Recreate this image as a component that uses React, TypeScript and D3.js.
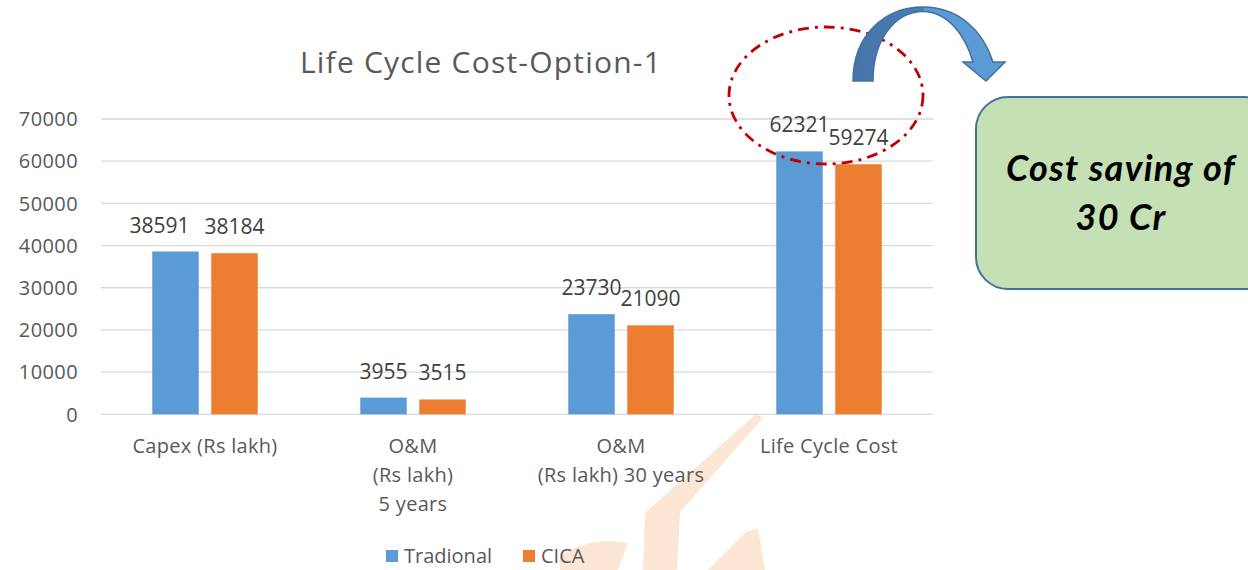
import React from "react";
import * as d3 from "d3";

const categories: string[][] = [
  ["Capex (Rs lakh)"],
  ["O&M", "(Rs lakh)", "5 years"],
  ["O&M", "(Rs lakh) 30 years"],
  ["Life Cycle Cost"],
];
const seriesNames = ["Tradional", "CICA"];
const traditional = [38591, 3955, 23730, 62321];
const cica = [38184, 3515, 21090, 59274];
const yTicks = [0, 10000, 20000, 30000, 40000, 50000, 60000, 70000];

const W = 1248;
const H = 570;
const FONT = "'Open Sans', 'Noto Sans', sans-serif";
const colors = ["#5B9BD5", "#ED7D31"];

const plotLeft = 101;
const plotRight = 933;
const plotBottom = 414.3;
const plotTop = 119;

export default function App() {
  const y = d3.scaleLinear().domain([0, 70000]).range([plotBottom, plotTop]);
  const keys = categories.map((c) => c.join(" "));
  const x0 = d3.scaleBand<string>().domain(keys).range([plotLeft, plotRight]);
  const x1 = d3
    .scaleBand<string>()
    .domain(seriesNames)
    .range([51.25, 156.75])
    .paddingInner(0.212);

  const rows = keys.map((k, i) => ({ key: k, values: [traditional[i], cica[i]] }));

  // first Capex label sits slightly left of its bar
  const labelShift = (ci: number, si: number) => (ci === 0 && si === 0 ? -16 : 0);

  return (
    <svg
      width={W}
      height={H}
      viewBox={`0 0 ${W} ${H}`}
      style={{ position: "absolute", left: 0, top: 0, background: "#fff" }}
    >
      <defs>
        <linearGradient id="arrowFill" x1="853" y1="0" x2="1005" y2="0" gradientUnits="userSpaceOnUse">
          <stop offset="0" stopColor="#4574A8" />
          <stop offset="0.46" stopColor="#4B7DB3" />
          <stop offset="0.47" stopColor="#5B9BD5" />
          <stop offset="1" stopColor="#5B9BD5" />
        </linearGradient>
      </defs>

      {/* faint logo watermark */}
      <g fill="#FCE6D4">
        <polygon points="756,414 763,418 680,512 677,570 643,570 645,513" />
        <polygon points="746,532 758,528 765,570 708,570" />
        <path d="M560,570 L560,556 Q590,536 628,543 L618,570 Z" />
      </g>

      {/* title */}
      <text
        x={481}
        y={73}
        textAnchor="middle"
        fontFamily={FONT}
        fontSize={30}
        letterSpacing={1.2}
        fill="#595959"
      >
        Life Cycle Cost-Option-1
      </text>

      {/* gridlines and y ticks */}
      {yTicks.map((t) => (
        <g key={t}>
          <line x1={plotLeft} x2={plotRight} y1={y(t)} y2={y(t)} stroke="#D9D9D9" strokeWidth={1.3} />
          <text
            x={78}
            y={y(t)}
            dy="0.36em"
            textAnchor="end"
            fontFamily={FONT}
            fontSize={20}
            letterSpacing={0.4}
            fill="#595959"
          >
            {t}
          </text>
        </g>
      ))}

      {/* bars */}
      {rows.map((r, ci) => (
        <g key={r.key} transform={`translate(${x0(r.key)},0)`}>
          {r.values.map((v, si) => {
            const bx = x1(seriesNames[si])!;
            const bw = x1.bandwidth();
            return (
              <g key={si}>
                <rect x={bx} y={y(v)} width={bw} height={plotBottom - y(v)} fill={colors[si]} />
                <text
                  x={bx + bw / 2 + labelShift(ci, si)}
                  y={y(v) - 19}
                  textAnchor="middle"
                  fontFamily={FONT}
                  fontSize={21}
                  fill="#404040"
                >
                  {v}
                </text>
              </g>
            );
          })}
        </g>
      ))}

      {/* category labels */}
      {categories.map((lines, ci) => (
        <text
          key={ci}
          x={x0(keys[ci])! + x0.bandwidth() / 2}
          y={452.5}
          textAnchor="middle"
          fontFamily={FONT}
          fontSize={20}
          letterSpacing={0.3}
          fill="#595959"
        >
          {lines.map((l, li) => (
            <tspan key={li} x={x0(keys[ci])! + x0.bandwidth() / 2} dy={li === 0 ? 0 : 29}>
              {l}
            </tspan>
          ))}
        </text>
      ))}

      {/* legend */}
      {seriesNames.map((s, i) => {
        const lx = [386, 523][i];
        return (
          <g key={s}>
            <rect x={lx} y={550} width={12} height={12} fill={colors[i]} />
            <text x={lx + 18} y={563} fontFamily={FONT} fontSize={20} fill="#595959">
              {s}
            </text>
          </g>
        );
      })}

      {/* highlight ellipse around the life cycle totals */}
      <ellipse
        cx={826}
        cy={95.5}
        rx={97}
        ry={68.5}
        fill="none"
        stroke="#C00000"
        strokeWidth={2.8}
        strokeDasharray="11 6 3 6"
      />

      {/* curved arrow */}
      <path
        d="M853,81 C853,35 885,7 923,7 C958,7 983,30 993,62 L1005,62 L986,81 L963,62 L973,62 C965,35 948,12 923,11.5 C895,11.5 873,40 873,81 Z"
        fill="url(#arrowFill)"
        stroke="#41719C"
        strokeWidth={1.5}
        strokeLinejoin="miter"
      />

      {/* callout box */}
      <rect x={976} y={97} width={300} height={192} rx={32} ry={32} fill="#C5E0B4" stroke="#41719C" strokeWidth={2} />
      <text
        x={1121}
        y={181}
        textAnchor="middle"
        fontFamily="Lato, 'Open Sans', sans-serif"
        fontWeight="bold"
        fontStyle="italic"
        fontSize={36}
        letterSpacing={1.3}
        fill="#000"
      >
        Cost saving of
      </text>
      <text
        x={1121}
        y={230}
        textAnchor="middle"
        fontFamily="Lato, 'Open Sans', sans-serif"
        fontWeight="bold"
        fontStyle="italic"
        fontSize={36}
        letterSpacing={1.3}
        fill="#000"
      >
        30 Cr
      </text>
    </svg>
  );
}
